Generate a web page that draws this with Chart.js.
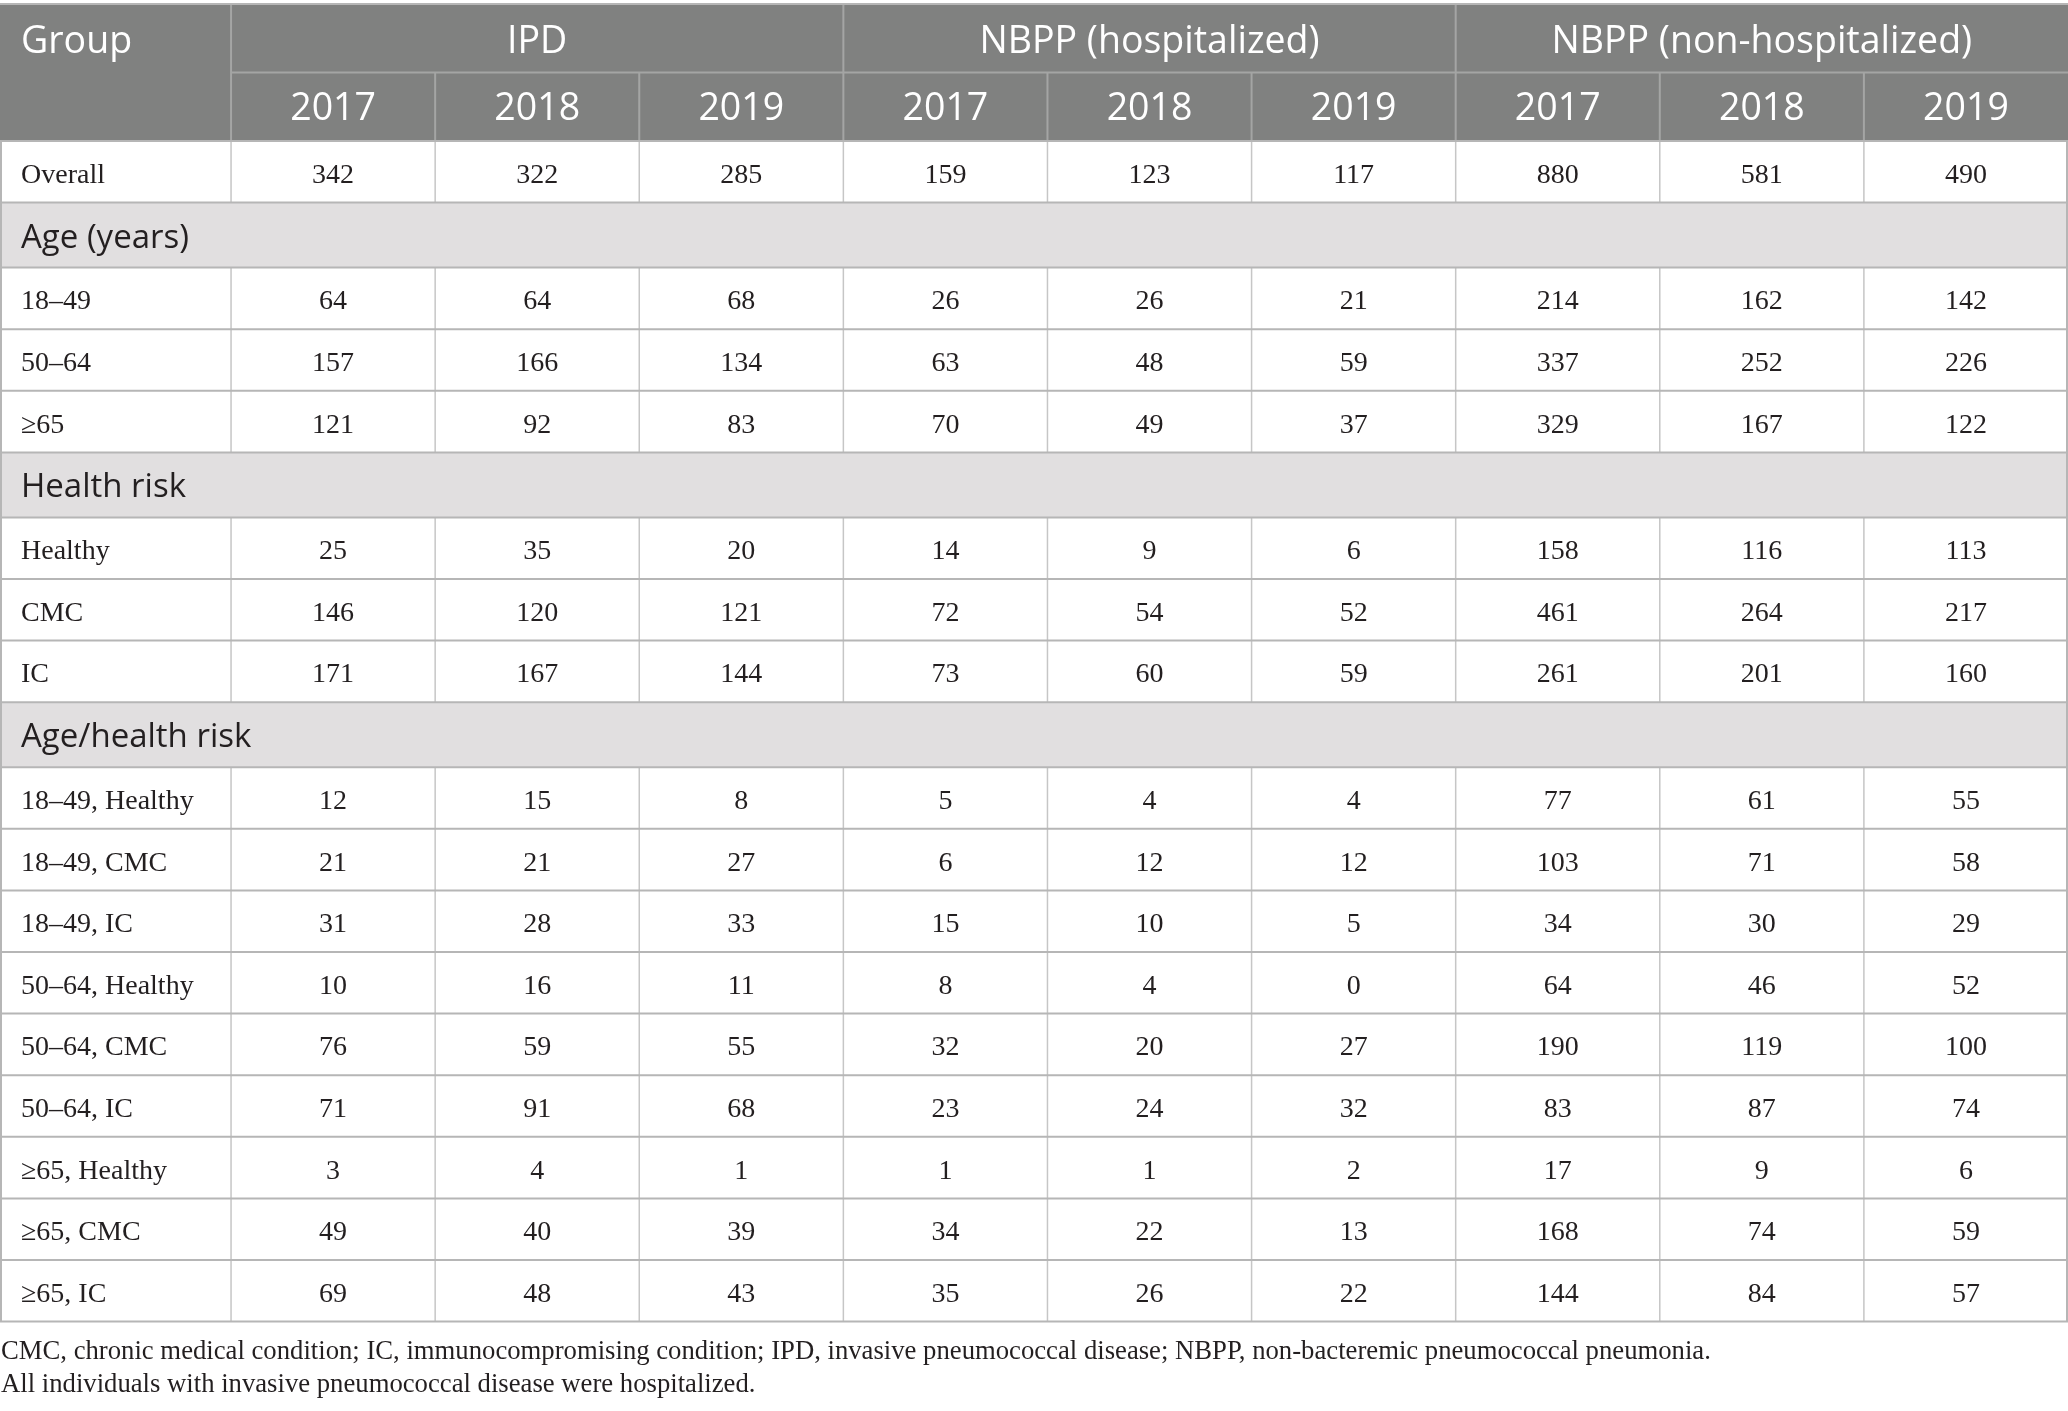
<!DOCTYPE html>
<html>
<head>
<meta charset="utf-8">
<title>Pneumococcal disease cases by group</title>
<script src="https://cdn.jsdelivr.net/npm/chart.js@4.4.1/dist/chart.umd.min.js"></script>
<style>
  html, body { margin: 0; padding: 0; background: #ffffff; }
  #wrap { width: 2068px; height: 1411px; }
</style>
</head>
<body>
<div id="wrap"><canvas id="casesTable" width="2068" height="1411"></canvas></div>
<script>
// ---- Table data ----
const groupTitle = 'Group';
const diseaseGroups = ['IPD', 'NBPP (hospitalized)', 'NBPP (non-hospitalized)'];
const years = ['2017', '2018', '2019'];
const sectionTitles = ['Age (years)', 'Health risk', 'Age/health risk'];
// index of the first row that belongs to each section
const sectionStarts = [1, 4, 7];

const rowLabels = [
    'Overall',
    '18–49', '50–64', '≥65',
    'Healthy', 'CMC', 'IC',
    '18–49, Healthy', '18–49, CMC', '18–49, IC',
    '50–64, Healthy', '50–64, CMC', '50–64, IC',
    '≥65, Healthy', '≥65, CMC', '≥65, IC'
];

const ipd2017 = [342, 64, 157, 121, 25, 146, 171, 12, 21, 31, 10, 76, 71, 3, 49, 69];
const ipd2018 = [322, 64, 166, 92, 35, 120, 167, 15, 21, 28, 16, 59, 91, 4, 40, 48];
const ipd2019 = [285, 68, 134, 83, 20, 121, 144, 8, 27, 33, 11, 55, 68, 1, 39, 43];
const hosp2017 = [159, 26, 63, 70, 14, 72, 73, 5, 6, 15, 8, 32, 23, 1, 34, 35];
const hosp2018 = [123, 26, 48, 49, 9, 54, 60, 4, 12, 10, 4, 20, 24, 1, 22, 26];
const hosp2019 = [117, 21, 59, 37, 6, 52, 59, 4, 12, 5, 0, 27, 32, 2, 13, 22];
const nonHosp2017 = [880, 214, 337, 329, 158, 461, 261, 77, 103, 34, 64, 190, 83, 17, 168, 144];
const nonHosp2018 = [581, 162, 252, 167, 116, 264, 201, 61, 71, 30, 46, 119, 87, 9, 74, 84];
const nonHosp2019 = [490, 142, 226, 122, 113, 217, 160, 55, 58, 29, 52, 100, 74, 6, 59, 57];

const footnotes = [
    'CMC, chronic medical condition; IC, immunocompromising condition; IPD, invasive pneumococcal disease; NBPP, non-bacteremic pneumococcal pneumonia.',
    'All individuals with invasive pneumococcal disease were hospitalized.'
];

// ---- Layout (x in column units, y in canvas pixel units) ----
const LAYOUT = {
    groupSpan: 1.132,       // width of the "Group" column relative to a data column
    top: 4,
    headH: [68.5, 68.5],
    rowH: 61.6,
    sectionH: 65,
    textPad: 21,
    footBaselines: [1359, 1392]
};

const COLORS = {
    headBg: '#808180',
    headLine: '#a4a5a4',
    headText: '#ffffff',
    sectionBg: '#e1dfe0',
    rowLine: '#b6b6b6',
    colLine: '#c6c6c6',
    text: '#231f20'
};

const FONTS = {
    head: '37.5px "Open Sans"',
    section: '33px "Open Sans"',
    cell: '28px "Liberation Serif"',
    foot: '26.7px "Liberation Serif"'
};

const columns = [ipd2017, ipd2018, ipd2019, hosp2017, hosp2018, hosp2019, nonHosp2017, nonHosp2018, nonHosp2019];

/**
 * Work out the vertical extent of every body row (data rows and section bands)
 */
function buildRows() {
    const rows = [];
    let y = LAYOUT.top + LAYOUT.headH[0] + LAYOUT.headH[1];
    rowLabels.forEach((label, i) => {
        const s = sectionStarts.indexOf(i);
        if (s >= 0) {
            rows.push({ type: 'section', label: sectionTitles[s], top: y, bottom: y + LAYOUT.sectionH });
            y += LAYOUT.sectionH;
        }
        rows.push({ type: 'data', index: i, top: y, bottom: y + LAYOUT.rowH });
        y += LAYOUT.rowH;
    });
    return { rows, bottom: y };
}

const body = buildRows();
const dataRows = body.rows.filter(r => r.type === 'data');
const rowCenter = i => (dataRows[i].top + dataRows[i].bottom) / 2;

// Draws the table frame, bands, header and all text from the chart's scales
const tablePlugin = {
    id: 'tablePlugin',
    beforeDatasetsDraw(chart) {
        const { ctx, scales: { x, y } } = chart;
        const px = v => x.getPixelForValue(v);
        const py = v => y.getPixelForValue(v);
        const left = px(-LAYOUT.groupSpan);
        const right = px(columns.length);
        const headTop = py(LAYOUT.top);
        const head1 = py(LAYOUT.top + LAYOUT.headH[0]);
        const headBottom = py(LAYOUT.top + LAYOUT.headH[0] + LAYOUT.headH[1]);
        const tableBottom = py(body.bottom);

        ctx.save();
        // header background
        ctx.fillStyle = COLORS.headBg;
        ctx.fillRect(left, headTop, right - left, headBottom - headTop);

        // section bands
        ctx.fillStyle = COLORS.sectionBg;
        body.rows.filter(r => r.type === 'section').forEach(r => {
            ctx.fillRect(left, py(r.top), right - left, py(r.bottom) - py(r.top));
        });

        // header inner lines
        ctx.strokeStyle = COLORS.headLine;
        ctx.lineWidth = 2;
        ctx.beginPath();
        ctx.moveTo(px(0), head1);
        ctx.lineTo(right, head1);
        for (let c = 0; c < columns.length; c++) {
            const xx = px(c);
            ctx.moveTo(xx, c % 3 === 0 ? headTop : head1);
            ctx.lineTo(xx, headBottom);
        }
        ctx.stroke();

        // vertical lines in data rows
        ctx.strokeStyle = COLORS.colLine;
        ctx.lineWidth = 1.5;
        ctx.beginPath();
        dataRows.forEach(r => {
            for (let c = 0; c < columns.length; c++) {
                ctx.moveTo(px(c), py(r.top));
                ctx.lineTo(px(c), py(r.bottom));
            }
        });
        ctx.stroke();

        // horizontal row lines and outer frame
        ctx.strokeStyle = COLORS.rowLine;
        ctx.lineWidth = 2;
        ctx.beginPath();
        ctx.moveTo(left, headTop);
        ctx.lineTo(right, headTop);
        body.rows.forEach(r => {
            ctx.moveTo(left, py(r.top));
            ctx.lineTo(right, py(r.top));
        });
        ctx.moveTo(left, tableBottom);
        ctx.lineTo(right, tableBottom);
        ctx.moveTo(left + 1, headBottom);
        ctx.lineTo(left + 1, tableBottom);
        ctx.moveTo(right - 1, headBottom);
        ctx.lineTo(right - 1, tableBottom);
        ctx.stroke();
        ctx.restore();
    },
    afterDatasetsDraw(chart) {
        const { ctx, scales: { x, y } } = chart;
        const px = v => x.getPixelForValue(v);
        const py = v => y.getPixelForValue(v);
        const left = px(-LAYOUT.groupSpan);
        const head1Mid = py(LAYOUT.top + LAYOUT.headH[0] / 2);
        const head2Mid = py(LAYOUT.top + LAYOUT.headH[0] + LAYOUT.headH[1] / 2);

        ctx.save();
        ctx.textBaseline = 'alphabetic';

        // header text
        ctx.font = FONTS.head;
        ctx.fillStyle = COLORS.headText;
        ctx.textAlign = 'left';
        ctx.fillText(groupTitle, left + LAYOUT.textPad, head1Mid + 15);
        ctx.textAlign = 'center';
        diseaseGroups.forEach((g, i) => {
            ctx.fillText(g, px(i * 3 + 1.5), head1Mid + 15);
            years.forEach((yr, j) => {
                ctx.fillText(yr, px(i * 3 + j + 0.5), head2Mid + 13.5);
            });
        });

        // section titles
        ctx.font = FONTS.section;
        ctx.fillStyle = COLORS.text;
        ctx.textAlign = 'left';
        body.rows.filter(r => r.type === 'section').forEach(r => {
            ctx.fillText(r.label, left + LAYOUT.textPad, py((r.top + r.bottom) / 2) + 12.5);
        });

        // cell values and row labels, placed on the dataset points
        ctx.font = FONTS.cell;
        chart.data.datasets.forEach((ds, di) => {
            const meta = chart.getDatasetMeta(di);
            meta.data.forEach((el, i) => {
                if (ds.isLabel) {
                    ctx.textAlign = 'left';
                    ctx.fillText(rowLabels[i], el.x + LAYOUT.textPad, el.y + 11);
                } else {
                    ctx.textAlign = 'center';
                    ctx.fillText(String(ds.values[i]), el.x, el.y + 11);
                }
            });
        });

        // footnotes
        ctx.font = FONTS.foot;
        ctx.textAlign = 'left';
        footnotes.forEach((line, i) => {
            ctx.fillText(line, left + 1, py(LAYOUT.footBaselines[i]));
        });
        ctx.restore();
    }
};

const datasets = columns.map((values, c) => ({
    label: diseaseGroups[Math.floor(c / 3)] + ' ' + years[c % 3],
    values: values,
    data: values.map((v, i) => ({ x: c + 0.5, y: rowCenter(i) }))
}));
datasets.push({
    label: groupTitle,
    isLabel: true,
    data: rowLabels.map((l, i) => ({ x: -LAYOUT.groupSpan, y: rowCenter(i) }))
});

new Chart(document.getElementById('casesTable'), {
    type: 'scatter',
    data: { datasets },
    options: {
        responsive: false,
        animation: false,
        events: [],
        layout: { padding: 0 },
        elements: { point: { radius: 0, hoverRadius: 0 } },
        plugins: {
            legend: { display: false },
            tooltip: { enabled: false }
        },
        scales: {
            x: { type: 'linear', display: false, min: -LAYOUT.groupSpan, max: columns.length },
            y: { type: 'linear', display: false, min: 0, max: 1411, reverse: true }
        }
    },
    plugins: [tablePlugin]
});
</script>
</body>
</html>
